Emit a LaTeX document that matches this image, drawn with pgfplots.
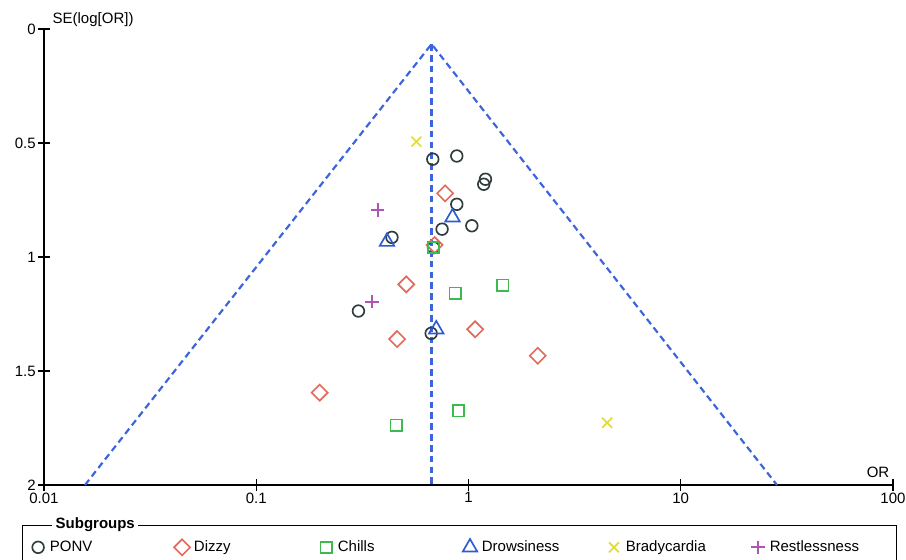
\documentclass[border=0pt]{standalone}
\usepackage{fontspec}
\setmainfont{Liberation Sans}
\usepackage{pgfplots}
\usetikzlibrary{calc}
\pgfplotsset{compat=1.18}
\definecolor{ponv}{HTML}{2F3D3D}
\definecolor{dizzy}{HTML}{E46A5C}
\definecolor{chills}{HTML}{3DBA4E}
\definecolor{drows}{HTML}{2D5BD0}
\definecolor{brady}{HTML}{DEDE3A}
\definecolor{restl}{HTML}{B054B4}
\definecolor{funnel}{HTML}{3C64DC}
\begin{document}
\begin{tikzpicture}
\useasboundingbox (-26.4pt,-45pt) rectangle (517.2pt,291pt);
\begin{axis}[name=ax, at={(0,0)}, anchor=south west, scale only axis,
  width=509.4pt, height=273.6pt,
  xmode=log, xmin=0.01, xmax=100, ymin=0, ymax=2, y dir=reverse,
  axis x line*=bottom, axis y line*=left,
  xtick={0.01,0.1,1,10,100}, xticklabels={0.01,0.1,1,10,100}, xminorticks=false,
  ytick={0,0.5,1,1.5,2}, yticklabels={0,0.5,1,1.5,2},
  tick align=center, major tick length=7pt,
  tick style={black, line width=0.8pt},
  axis line style={black, line width=0.9pt},
  tick label style={font=\fontsize{9}{10}\selectfont},
  xticklabel style={yshift=2.5pt},
  yticklabel style={xshift=2pt},
  /pgf/number format/assume math mode=true,
  ylabel={SE(log[OR])},
  ylabel style={at={(axis description cs:0,1)}, rotate=-90, anchor=south west, font=\fontsize{9}{10}\selectfont, inner sep=1pt, xshift=4pt},
  xlabel={OR},
  xlabel style={at={(axis description cs:1,0)}, anchor=south east, font=\fontsize{9}{10}\selectfont, inner sep=1pt, yshift=3pt, xshift=-1pt},
  clip=false,
  legend style={at={(axis description cs:-0.0259,-0.0877)}, anchor=north west, draw=black, line width=0.8pt,
    legend columns=6, font=\fontsize{9}{10}\selectfont, inner ysep=7pt, inner xsep=3pt},
  legend image code/.code={\path[draw=none,fill=none] (0cm,0cm) (0.4cm,0cm); \draw[#1] plot coordinates {(0.22cm,0cm)};},
]
\addplot[only marks, mark=o, mark size=3.5pt, ponv, mark options={line width=1pt}] coordinates {
(0.679,0.571) (0.881,0.557) (1.202,0.659) (1.180,0.681) (0.881,0.769)
(0.751,0.878) (1.037,0.863) (0.436,0.914) (0.684,0.959) (0.303,1.237) (0.667,1.335)};
\addlegendentry{\makebox[71pt][l]{PONV}}
\addplot[only marks, mark=square, mark size=3.4pt, dizzy, mark options={line width=1pt, rotate=45}] coordinates {
(0.776,0.721) (0.692,0.947) (0.509,1.120) (0.461,1.360) (1.075,1.317) (2.12,1.433) (0.199,1.595)};
\addlegendentry{\makebox[71pt][l]{Dizzy}}
\addplot[only marks, mark=square, mark size=3.4pt, chills, mark options={line width=1pt}] coordinates {
(0.684,0.959) (0.865,1.159) (1.449,1.123) (0.457,1.737) (0.897,1.674)};
\addlegendentry{\makebox[71pt][l]{Chills}}
\addplot[only marks, mark=triangle, mark size=5pt, drows, mark options={line width=1pt}] coordinates {
(0.841,0.826) (0.413,0.933) (0.705,1.317)};
\addlegendentry{\makebox[71pt][l]{Drowsiness}}
\addplot[only marks, mark=x, mark size=4.2pt, brady, mark options={line width=1pt}] coordinates {
(0.568,0.494) (4.50,1.727)};
\addlegendentry{\makebox[71pt][l]{Bradycardia}}
\addplot[only marks, mark=+, mark size=4pt, restl, mark options={line width=1.2pt}] coordinates {
(0.374,0.794) (0.351,1.196)};
\addlegendentry{\makebox[71pt][l]{Restlessness}}
\addplot[forget plot, draw=funnel, line width=1.3pt, dash pattern=on 4pt off 2.5pt] coordinates {
(0.0156,2) (0.67,0.066) (28.4,2)};
\addplot[forget plot, draw=funnel, line width=1.3pt, dash pattern=on 4pt off 2.5pt] coordinates {
(0.67,0.066) (0.67,2)};
\end{axis}
\node[anchor=west, fill=white, inner sep=2pt, font=\bfseries\fontsize{9}{10}\selectfont] at ($(ax.south west)+(4.8pt,-24pt)$) {Subgroups};
\end{tikzpicture}
\end{document}
